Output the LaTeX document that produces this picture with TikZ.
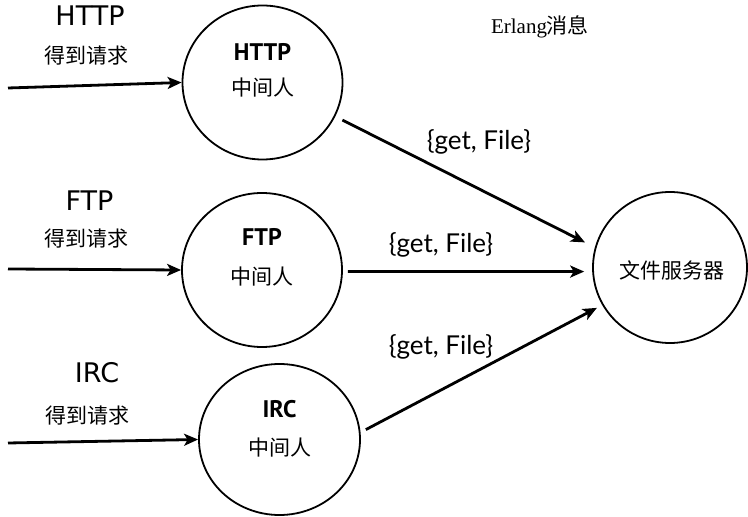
\documentclass[tikz,border=0pt]{standalone}
\usepackage{fontspec}
\setmainfont{Liberation Serif}
\newfontfamily\cjk{Noto Sans CJK SC}
\newfontfamily\protofont{DejaVu Sans}
\newfontfamily\innerfont{PT Sans}
\newfontfamily\msgfont{Lato}
\usetikzlibrary{arrows.meta, shapes.geometric}

\tikzset{
  proc/.style={draw, ellipse, line width=1.8pt, minimum width=160pt, minimum height=154pt, inner sep=0pt},
  flow/.style={line width=2.8pt, -{Stealth[length=14pt, width=12pt, inset=3.5pt]}},
  proto/.style={font=\protofont\fontsize{27}{27}\selectfont},
  inner/.style={font=\innerfont\bfseries\fontsize{24}{24}\selectfont},
  zh/.style={font=\cjk\fontsize{21}{21}\selectfont},
  msg/.style={font=\msgfont\fontsize{26}{26}\selectfont},
}

\begin{document}
\begin{tikzpicture}[x=1pt, y=1pt]
      \useasboundingbox (0,0) rectangle (748,517);
      % Kreise
      \node[proc] (http) at (262.5,434.5) {};
      \node[proc] (ftp)  at (262,247) {};
      \node[proc, minimum width=161pt, minimum height=151pt] (irc) at (279.5,77.5) {};
      \node[proc, minimum width=154pt, minimum height=151pt] (file) at (670,249.5) {};

      % Texte in den Kreisen
      \node[inner] (httpname) at ([yshift=31pt]http.center)  {HTTP};
      \node[zh]    (httpmid)  at ([yshift=-5pt]http.center)  {中间人};
      \node[inner] (ftpname)  at ([yshift=33.5pt]ftp.center) {FTP};
      \node[zh]    (ftpmid)   at ([yshift=-6.5pt]ftp.center) {中间人};
      \node[inner] (ircname)  at ([yshift=30.5pt]irc.center) {IRC};
      \node[zh]    (ircmid)   at ([yshift=-8pt]irc.center)   {中间人};
      \node[zh]    (filename) at ([xshift=2pt, yshift=-2.5pt]file.center) {文件服务器};

      % Eingaenge
      \coordinate (httpin) at (8,429);
      \coordinate (ftpin)  at (8,248);
      \coordinate (ircin)  at (8,74);

      \draw[flow] (httpin) -- (http.west);
      \draw[flow] (ftpin)  -- (ftp.west);
      \draw[flow] (ircin)  -- (irc.west);

      \node[proto] (httplabel) at (90,501.5) {HTTP};
      \node[zh]    (httpget)   at (86.5,461) {得到请求};
      \node[proto] (ftplabel)  at (89.5,316) {FTP};
      \node[zh]    (ftpget)    at (86.5,278) {得到请求};
      \node[proto] (irclabel)  at (97,144.5) {IRC};
      \node[zh]    (ircget)    at (87.5,101) {得到请求};

      % Nachrichten an den Dateiserver
      \draw[flow, shorten <=8pt, shorten >=11pt] (http.-25) -- (file.165);
      \draw[flow, shorten <=5pt, shorten >=8pt]  (ftp.-1)   -- (file.183);
      \draw[flow, shorten <=6pt, shorten >=6pt]  (irc.5)    -- (file.209);

      \node[msg] (getone)   at (479,375) {\{get, File\}};
      \node[msg] (gettwo)   at (441,272) {\{get, File\}};
      \node[msg] (getthree) at (441,170) {\{get, File\}};

      \node[font=\fontsize{21}{21}\selectfont] (erlang) at (540,490) {Erlang{\cjk 消息}};

    \end{tikzpicture}
\end{document}
